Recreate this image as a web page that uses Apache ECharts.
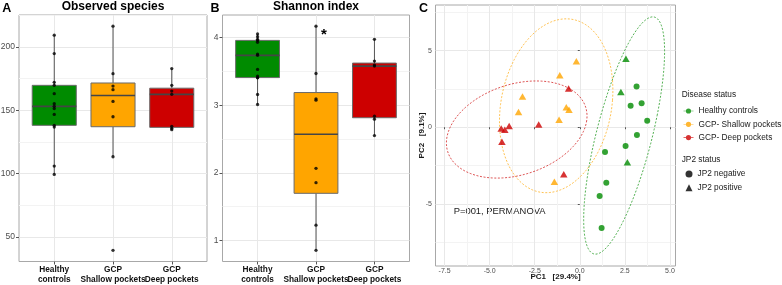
<!DOCTYPE html>
<html><head><meta charset="utf-8">
<script src="https://cdn.jsdelivr.net/npm/echarts@6/dist/echarts.min.js"></script>
<style>html,body{margin:0;padding:0;background:#fff}#chart{width:782px;height:285px}</style>
</head><body><div id="chart"></div>
<script>
// ---------- data ----------
const groups = ['Healthy\ncontrols', 'GCP\nShallow pockets', 'GCP\nDeep pockets'];
const boxColors = ['#008B00', '#FFA500', '#CD0000'];
const observedHealthy = [209.3, 194.8, 172.1, 169.7, 163.1, 155.2, 153.1, 151.3, 146.7, 138.1, 136.7, 105.9, 99.3];
const observedShallow = [216.4, 178.9, 169.1, 166.3, 157.0, 144.9, 113.3, 39.4];
const observedDeep = [182.9, 169.7, 165.2, 162.6, 137.3, 135.7, 134.7];
const shannonHealthy = [4.055, 4.015, 3.976, 3.96, 3.932, 3.758, 3.739, 3.531, 3.432, 3.41, 3.407, 3.160, 3.012];
const shannonShallow = [4.17, 3.47, 3.095, 3.076, 2.067, 1.855, 1.226, 0.855];
const shannonDeep = [3.976, 3.654, 3.595, 3.58, 2.838, 2.794, 2.552];
const observedTicks = [50, 100, 150, 200];
const shannonTicks = [1, 2, 3, 4];

const diseaseNames = ['Healthy controls', 'GCP- Shallow pockets', 'GCP- Deep pockets'];
const jp2Names = ['JP2 negative', 'JP2 positive'];
const healthyPC1 = [2.56, 2.28, 2.64, 3.15, 2.82, 3.43, 3.74, 3.17, 2.54, 1.40, 1.47, 1.10, 1.21];
const healthyPC2 = [4.47, 2.30, -2.28, 2.65, 1.40, 1.57, 0.43, -0.50, -1.22, -1.61, -3.62, -4.49, -6.57];
const healthyJP2 = ['pos', 'pos', 'pos', 'neg', 'neg', 'neg', 'neg', 'neg', 'neg', 'neg', 'neg', 'neg', 'neg'];
const shallowPC1 = [-0.19, -1.11, -3.18, -3.40, -0.75, -0.60, -1.15, -1.41];
const shallowPC2 = [4.30, 3.39, 2.00, 1.00, 1.31, 1.14, 0.49, -3.56];
const shallowJP2 = ['pos', 'pos', 'pos', 'pos', 'pos', 'pos', 'pos', 'pos'];
const deepPC1 = [-0.62, -4.36, -4.16, -3.92, -2.28, -4.32, -0.89];
const deepPC2 = [2.52, -0.09, -0.16, 0.08, 0.17, -0.94, -3.06];
const deepJP2 = ['pos', 'pos', 'pos', 'pos', 'pos', 'pos', 'pos'];
// 95% ellipses: centre and symmetric shape matrix [[xx, xy],[xy, yy]]
const ellipseCenterX = [2.46, -1.31, -3.5];
const ellipseCenterY = [-0.54, 1.40, -0.15];
const ellipseShapeXX = [1.83, 3.125, 3.87];
const ellipseShapeXY = [1.30, 0.36, 0.49];
const ellipseShapeYY = [7.63, 5.66, 3.13];
const pcTicksX = [-7.5, -5, -2.5, 0, 2.5, 5];
const pcTicksY = [-5, 0, 5];

// ---------- helpers ----------
const FONT = 'Liberation Sans, Arial, sans-serif';
function q7(s, p) { const h = (s.length - 1) * p, lo = Math.floor(h); const hi = Math.min(lo + 1, s.length - 1); return s[lo] + (h - lo) * (s[hi] - s[lo]); }
function boxStats(vals) {
  const s = [...vals].sort((a, b) => a - b);
  const q1 = q7(s, .25), med = q7(s, .5), q3 = q7(s, .75), iqr = q3 - q1;
  const lo = s.find(v => v >= q1 - 1.5 * iqr);
  const hi = [...s].reverse().find(v => v <= q3 + 1.5 * iqr);
  return [lo, q1, med, q3, hi];
}
function expand(lo, hi) { const d = (hi - lo) * 0.05; return [lo - d, hi + d]; }
function minorOf(ticks, ext) {
  const step = ticks[1] - ticks[0]; const out = [];
  for (let i = -1; i < ticks.length; i++) { const v = ticks[0] + (i + 0.5) * step; if (v >= ext[0] && v <= ext[1]) out.push(v); }
  return out;
}
const obsSets = [observedHealthy, observedShallow, observedDeep];
const shaSets = [shannonHealthy, shannonShallow, shannonDeep];
const allObs = obsSets.flat(), allSha = shaSets.flat();
const obsExt = expand(Math.min(...allObs), Math.max(...allObs));
const shaExt = expand(Math.min(...allSha), Math.max(...allSha));
const obsBoxes = obsSets.map((s, i) => [i + 1, ...boxStats(s)]);
const shaBoxes = shaSets.map((s, i) => [i + 1, ...boxStats(s)]);
const obsPts = obsSets.flatMap((s, i) => s.map(v => [i + 1, v]));
const shaPts = shaSets.flatMap((s, i) => s.map(v => [i + 1, v]));

const pcX = [healthyPC1, shallowPC1, deepPC1], pcY = [healthyPC2, shallowPC2, deepPC2], pcJ = [healthyJP2, shallowJP2, deepJP2];
let xs = pcX.flat(), ys = pcY.flat();
for (let i = 0; i < 3; i++) {
  const wx = Math.hypot(ellipseShapeXX[i], ellipseShapeXY[i]), wy = Math.hypot(ellipseShapeXY[i], ellipseShapeYY[i]);
  xs.push(ellipseCenterX[i] - wx, ellipseCenterX[i] + wx); ys.push(ellipseCenterY[i] - wy, ellipseCenterY[i] + wy);
}
const pcXExt = expand(Math.min(...xs), Math.max(...xs));
const pcYExt = expand(Math.min(...ys), Math.max(...ys));

// ---------- styles ----------
const GRID_MAJ = '#e8e8e8', GRID_MIN = '#f3f3f3', BORDER = '#a8a8a8';
function boxRender(params, api) {
  const x = api.value(0), lo = api.value(1), q1 = api.value(2), med = api.value(3), q3 = api.value(4), hi = api.value(5);
  const h = 0.375;
  const a = api.coord([x - h, q3]), b = api.coord([x + h, q1]);
  const pl = api.coord([x, lo]), ph = api.coord([x, hi]), m1 = api.coord([x - h, med]), m2 = api.coord([x + h, med]);
  const c = boxColors[params.dataIndex];
  const ln = { stroke: '#555', lineWidth: 1 };
  return { type: 'group', children: [
    { type: 'line', shape: { x1: ph[0], y1: ph[1], x2: ph[0], y2: a[1] }, style: ln },
    { type: 'line', shape: { x1: pl[0], y1: pl[1], x2: pl[0], y2: b[1] }, style: ln },
    { type: 'rect', shape: { x: a[0], y: a[1], width: b[0] - a[0], height: b[1] - a[1] }, style: { fill: c, stroke: '#6a6a6a', lineWidth: 1 } },
    { type: 'line', shape: { x1: m1[0], y1: m1[1], x2: m2[0], y2: m2[1] }, style: { stroke: '#454545', lineWidth: 1.7 } }
  ] };
}
function ellipseRender(color) {
  return function (params, api) {
    const cx = api.value(0), cy = api.value(1), p = api.value(2), q = api.value(3), r = api.value(4);
    const pts = [];
    for (let k = 0; k <= 160; k++) { const t = k / 160 * 2 * Math.PI, c = Math.cos(t), s = Math.sin(t); pts.push(api.coord([cx + p * c + q * s, cy + q * c + r * s])); }
    return { type: 'polyline', shape: { points: pts }, style: { stroke: color, lineWidth: 0.9, lineDash: [2, 1.6], fill: null, opacity: 0.75 } };
  };
}
const grids = [
  { left: 19, top: 15, width: 188, height: 246.5 },
  { left: 222.5, top: 15, width: 187, height: 246.5 },
  { left: 435.5, top: 5, width: 240, height: 261 }
].map(g => Object.assign(g, { show: true, borderColor: BORDER, borderWidth: 1, backgroundColor: '#fff', containLabel: false, outerBoundsMode: 'none' }));

// category labels are split over two coincident bottom axes so none is hidden by overlap checks
function catX(gi, labelIdx, main) {
  const vals = labelIdx.map(i => i + 1);
  return { type: 'value', gridIndex: gi, min: 0.4, max: 3.6, position: 'bottom',
    axisLine: { show: false },
    axisTick: { show: main, length: 3, customValues: main ? [1, 2, 3] : vals, lineStyle: { color: '#555' } },
    axisLabel: { customValues: vals, formatter: v => groups[Math.round(v) - 1], color: '#111', fontWeight: 'bold', fontSize: 8.3, fontFamily: FONT, lineHeight: 10, margin: 3, interval: 0, hideOverlap: false, showMinLabel: true, showMaxLabel: true },
    splitLine: { show: main, lineStyle: { color: GRID_MAJ, width: 1 } } };
}
function valY(gi, ext, ticks, fmt, fs, margin) {
  return { type: 'value', gridIndex: gi, min: ext[0], max: ext[1],
    axisLine: { show: false },
    axisTick: { show: true, length: 3, customValues: ticks, lineStyle: { color: '#555' } },
    axisLabel: { customValues: ticks, formatter: fmt, color: '#4d4d4d', fontSize: fs, fontFamily: FONT, margin: margin, hideOverlap: false, showMinLabel: true, showMaxLabel: true },
    splitLine: { show: true, lineStyle: { color: GRID_MAJ, width: 1 } } };
}
function minorAxis(type, gi, ext, ticks) {
  const mv = minorOf(ticks, ext);
  return { type: 'value', gridIndex: gi, min: ext[0], max: ext[1],
    axisLine: { show: false }, axisTick: { show: false, customValues: mv },
    axisLabel: { show: false, customValues: mv },
    splitLine: { show: true, lineStyle: { color: GRID_MIN, width: 1 } } };
}
const xAxis = [
  catX(0, [0, 2], true), catX(1, [0, 2], true),
  Object.assign(valY(2, pcXExt, pcTicksX, v => v.toFixed(1), 7, 2), {
    position: 'bottom', name: 'PC1   [29.4%]', nameLocation: 'middle', nameGap: 7, nameMoveOverlap: false,
    nameTextStyle: { fontWeight: 'bold', fontSize: 8, color: '#1a1a1a', fontFamily: FONT } }),
  minorAxis('x', 2, pcXExt, pcTicksX),
  catX(0, [1], false), catX(1, [1], false)
];
xAxis[2].axisTick.length = 2;
const yAxis = [
  valY(0, obsExt, observedTicks, v => String(v), 8.5, 4),
  minorAxis('y', 0, obsExt, observedTicks),
  valY(1, shaExt, shannonTicks, v => String(v), 8.5, 4),
  minorAxis('y', 1, shaExt, shannonTicks),
  Object.assign(valY(2, pcYExt, pcTicksY, v => String(v), 7, 3.5), {
    name: 'PC2   [9.1%]', nameLocation: 'middle', nameGap: 10, nameMoveOverlap: false,
    nameTextStyle: { fontWeight: 'bold', fontSize: 8, color: '#1a1a1a', fontFamily: FONT } }),
  minorAxis('y', 2, pcYExt, pcTicksY)
];
yAxis[4].axisTick.length = 2;

const series = [
  { type: 'custom', xAxisIndex: 0, yAxisIndex: 0, data: obsBoxes, renderItem: boxRender, z: 2, silent: true },
  { type: 'scatter', xAxisIndex: 0, yAxisIndex: 0, data: obsPts, symbolSize: 3.3, itemStyle: { color: '#000' }, z: 3, silent: true },
  { type: 'custom', xAxisIndex: 1, yAxisIndex: 2, data: shaBoxes, renderItem: boxRender, z: 2, silent: true },
  { type: 'scatter', xAxisIndex: 1, yAxisIndex: 2, data: shaPts, symbolSize: 3.3, itemStyle: { color: '#000' }, z: 3, silent: true }
];
for (let i = 0; i < 3; i++) {
  series.push({ type: 'scatter', name: diseaseNames[i], xAxisIndex: 2, yAxisIndex: 4, z: 4, silent: true,
    itemStyle: { color: boxColors[i] },
    data: pcX[i].map((x, k) => pcJ[i][k] === 'pos'
      ? { value: [x, pcY[i][k]], symbol: 'triangle', symbolSize: [7.5, 6.5] }
      : { value: [x, pcY[i][k]], symbol: 'circle', symbolSize: 6 }) });
}
for (let i = 0; i < 3; i++) {
  series.push({ type: 'custom', name: diseaseNames[i], xAxisIndex: 2, yAxisIndex: 4, z: 3, silent: true,
    itemStyle: { color: boxColors[i] },
    data: [[ellipseCenterX[i], ellipseCenterY[i], ellipseShapeXX[i], ellipseShapeXY[i], ellipseShapeYY[i]]],
    renderItem: ellipseRender(boxColors[i]) });
}
series.push({ type: 'scatter', name: jp2Names[0], xAxisIndex: 2, yAxisIndex: 4, data: [], symbol: 'circle', itemStyle: { color: '#000' } });
series.push({ type: 'scatter', name: jp2Names[1], xAxisIndex: 2, yAxisIndex: 4, data: [], symbol: 'triangle', itemStyle: { color: '#000' } });

const keyIcon = 'path://M0,2.3H10V2.9H0Z M7.6,2.6A2.6,2.6 0 1,1 2.4,2.6A2.6,2.6 0 1,1 7.6,2.6Z';
const legendText = { fontSize: 8.3, color: '#1a1a1a', fontFamily: FONT, lineHeight: 10 };
const legend = [
  { orient: 'vertical', left: 683.5, top: 106, padding: 0, itemWidth: 10, itemHeight: 5.2, itemGap: 3.3, selectedMode: false,
    data: diseaseNames.map(n => ({ name: n, icon: keyIcon })), textStyle: legendText },
  { orient: 'vertical', left: 685.5, top: 169, padding: 0, itemWidth: 7, itemHeight: 7, itemGap: 3.7, selectedMode: false,
    data: [{ name: jp2Names[0], icon: 'circle' }, { name: jp2Names[1], icon: 'triangle' }], textStyle: legendText }
];

function txt(x, y, text, font, align, fill) {
  return { type: 'text', x: x, y: y, silent: true, style: { text: text, font: font, align: align || 'left', verticalAlign: 'middle', fill: fill || '#000' } };
}
const graphic = [
  txt(6.7, 8.5, 'A', 'bold 12.5px ' + FONT, 'center'),
  txt(215, 8.5, 'B', 'bold 12.5px ' + FONT, 'center'),
  txt(423.5, 8.5, 'C', 'bold 12.5px ' + FONT, 'center'),
  txt(113, 7, 'Observed species', 'bold 12px ' + FONT, 'center'),
  txt(316, 7, 'Shannon index', 'bold 12px ' + FONT, 'center'),
  txt(324, 35, '*', 'bold 15px ' + FONT, 'center'),
  txt(453.7, 211.7, 'P=001, PERMANOVA', '9.4px ' + FONT, 'left', '#1a1a1a'),
  txt(681.7, 95, 'Disease status', '8.3px ' + FONT, 'left', '#1a1a1a'),
  txt(681.7, 159.3, 'JP2 status', '8.3px ' + FONT, 'left', '#1a1a1a')
];

const chart = echarts.init(document.getElementById('chart'), null, { renderer: 'canvas' });
chart.setOption({ animation: false, backgroundColor: '#fff', textStyle: { fontFamily: FONT },
  grid: grids, xAxis: xAxis, yAxis: yAxis, series: series, legend: legend, graphic: graphic });
</script></body></html>
